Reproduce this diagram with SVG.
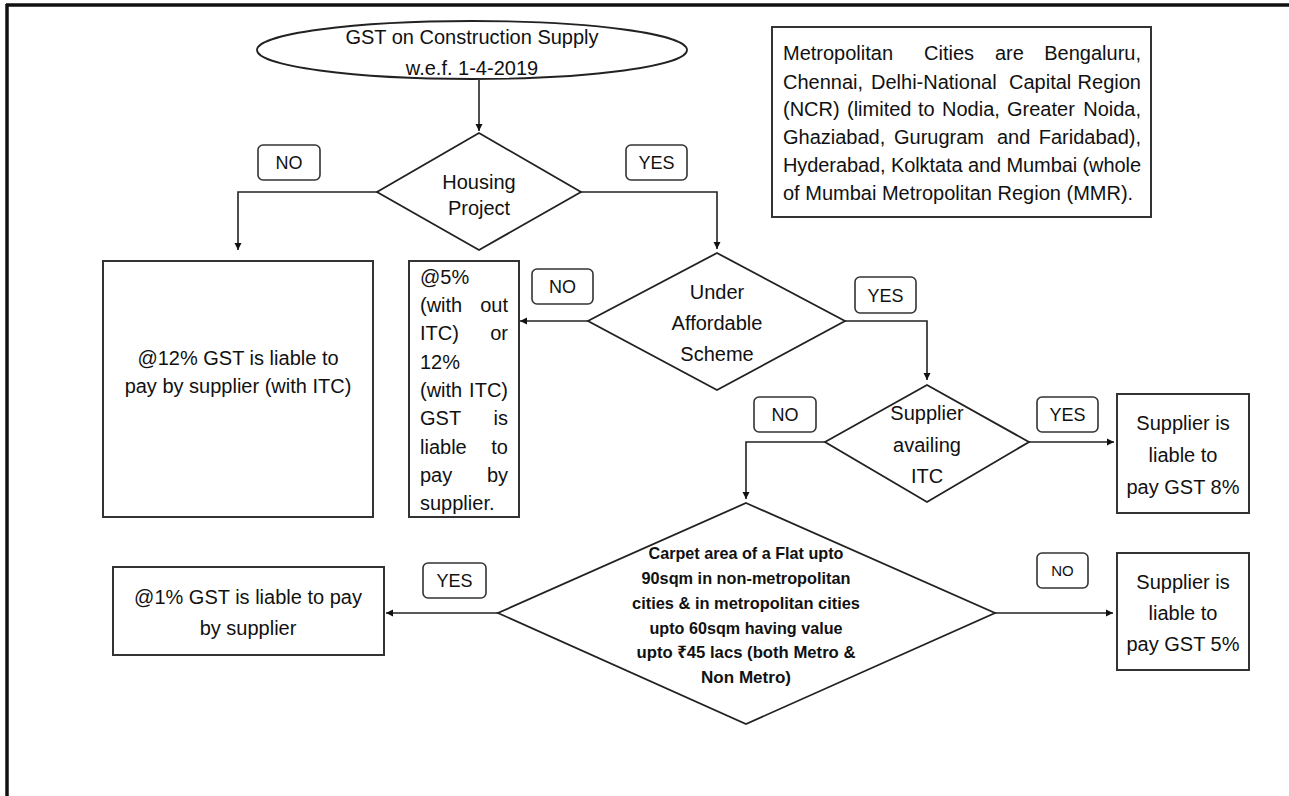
<svg xmlns="http://www.w3.org/2000/svg" width="1289" height="796" viewBox="0 0 1289 796">
  <style>
    .shape { fill: #ffffff; stroke: #222222; stroke-width: 1.8; }
    .box { fill: #ffffff; stroke: #333333; stroke-width: 2; }
    .tag { fill: #ffffff; stroke: #333333; stroke-width: 1.6; }
    .t { font-family: "Liberation Sans", Arial, "Noto Sans", sans-serif; font-size: 20px; fill: #111111; }
    .c { text-anchor: middle; }
    .e { text-anchor: end; }
    .lbl { font-family: "Liberation Sans", Arial, sans-serif; font-size: 18px; fill: #111111; text-anchor: middle; }
    .small { font-size: 15px; }
    .bold { font-family: "Liberation Sans", Arial, "Noto Sans", "DejaVu Sans", sans-serif; font-size: 17px; font-weight: bold; fill: #111111; text-anchor: middle; }
    .wire { fill: none; stroke: #222222; stroke-width: 1.6; }
  </style>
  <defs>
    <marker id="arrow" markerWidth="8" markerHeight="8" refX="7" refY="4" orient="auto" markerUnits="userSpaceOnUse">
      <path d="M0,0.5 L7,4 L0,7.5 Z" fill="#111111"/>
    </marker>
  </defs>

  <rect width="1289" height="796" fill="#ffffff"/>

  <!-- page frame (top and left edges only) -->
  <g id="frame" stroke="#111111" stroke-width="3.5" fill="none">
    <line x1="6" y1="5" x2="1289" y2="5"/>
    <line x1="7" y1="4" x2="7" y2="796"/>
  </g>

  <!-- connectors -->
  <g id="connectors">
    <path class="wire" d="M479,80 L479,131" marker-end="url(#arrow)"/>
    <path class="wire" d="M377,192 L238,192 L238,250" marker-end="url(#arrow)"/>
    <path class="wire" d="M581,192 L717,192 L717,249" marker-end="url(#arrow)"/>
    <path class="wire" d="M588,321 L520,321" marker-end="url(#arrow)"/>
    <path class="wire" d="M845,321 L927,321 L927,380" marker-end="url(#arrow)"/>
    <path class="wire" d="M1029,442 L1114,442" marker-end="url(#arrow)"/>
    <path class="wire" d="M825,442 L746,442 L746,499" marker-end="url(#arrow)"/>
    <path class="wire" d="M498,613 L386,613" marker-end="url(#arrow)"/>
    <path class="wire" d="M995,613 L1113,613" marker-end="url(#arrow)"/>
  </g>

  <!-- start -->
  <g id="start">
    <ellipse class="shape" cx="472" cy="50" rx="215" ry="29"/>
    <text class="t c" x="472" y="44" font-size="21">GST on Construction Supply</text>
    <text class="t c" x="472" y="75" font-size="21">w.e.f. 1-4-2019</text>
  </g>

  <!-- metropolitan note (justified lines placed word by word) -->
  <g id="metro-note">
    <rect class="box" x="772" y="27" width="379" height="190"/>
    <text class="t" y="60"><tspan x="783">Metropolitan</tspan><tspan x="924">Cities</tspan><tspan x="995">are</tspan><tspan x="1141" text-anchor="end">Bengaluru,</tspan></text>
    <text class="t" y="89"><tspan x="783">Chennai,</tspan><tspan x="871">Delhi-National</tspan><tspan x="1009">Capital</tspan><tspan x="1141" text-anchor="end">Region</tspan></text>
    <text class="t" y="116"><tspan x="783">(NCR)</tspan><tspan x="847">(limited</tspan><tspan x="918">to</tspan><tspan x="942">Nodia,</tspan><tspan x="1007">Greater</tspan><tspan x="1141" text-anchor="end">Noida,</tspan></text>
    <text class="t" y="144"><tspan x="783">Ghaziabad,</tspan><tspan x="894">Gurugram</tspan><tspan x="997">and</tspan><tspan x="1141" text-anchor="end">Faridabad),</tspan></text>
    <text class="t" x="783" y="172" textLength="358" lengthAdjust="spacing">Hyderabad, Kolktata and Mumbai (whole</text>
    <text class="t" x="783" y="200">of Mumbai Metropolitan Region (MMR).</text>
  </g>

  <!-- housing project decision -->
  <g id="housing">
    <polygon class="shape" points="479,133 581,192 479,250 377,192"/>
    <text class="t c" x="479" y="189">Housing</text>
    <text class="t c" x="479" y="215">Project</text>
  </g>

  <g id="label-housing-no">
    <rect class="tag" x="258" y="145" width="62" height="35" rx="5"/>
    <text class="lbl" x="289" y="169">NO</text>
  </g>
  <g id="label-housing-yes">
    <rect class="tag" x="626" y="145" width="61" height="35" rx="5"/>
    <text class="lbl" x="656.5" y="169">YES</text>
  </g>

  <!-- non-housing result -->
  <g id="non-housing">
    <rect class="box" x="103" y="261" width="270" height="256"/>
    <text class="t c" x="238" y="365">@12% GST is liable to</text>
    <text class="t c" x="238" y="393">pay by supplier (with ITC)</text>
  </g>

  <!-- affordable scheme decision -->
  <g id="affordable">
    <polygon class="shape" points="717,253 845,321 717,390 588,321"/>
    <text class="t c" x="717" y="299">Under</text>
    <text class="t c" x="717" y="330">Affordable</text>
    <text class="t c" x="717" y="361">Scheme</text>
  </g>

  <g id="label-affordable-no">
    <rect class="tag" x="532" y="269" width="61" height="35" rx="5"/>
    <text class="lbl" x="562.5" y="293">NO</text>
  </g>
  <g id="label-affordable-yes">
    <rect class="tag" x="855" y="277" width="61" height="36" rx="5"/>
    <text class="lbl" x="885.5" y="302">YES</text>
  </g>

  <!-- non-affordable result -->
  <g id="non-affordable">
    <rect class="box" x="409" y="261" width="110" height="256"/>
    <text class="t" y="284"><tspan x="420">@5%</tspan></text>
    <text class="t" y="312"><tspan x="420">(with</tspan><tspan x="508" text-anchor="end">out</tspan></text>
    <text class="t" y="340"><tspan x="420">ITC)</tspan><tspan x="508" text-anchor="end">or</tspan></text>
    <text class="t" y="369"><tspan x="420">12%</tspan></text>
    <text class="t" y="397"><tspan x="420">(with</tspan><tspan x="508" text-anchor="end">ITC)</tspan></text>
    <text class="t" y="425"><tspan x="420">GST</tspan><tspan x="508" text-anchor="end">is</tspan></text>
    <text class="t" y="454"><tspan x="420">liable</tspan><tspan x="508" text-anchor="end">to</tspan></text>
    <text class="t" y="482"><tspan x="420">pay</tspan><tspan x="508" text-anchor="end">by</tspan></text>
    <text class="t" y="510"><tspan x="420">supplier.</tspan></text>
  </g>

  <!-- ITC decision -->
  <g id="itc">
    <polygon class="shape" points="927,385 1029,442 927,502 825,442"/>
    <text class="t c" x="927" y="420">Supplier</text>
    <text class="t c" x="927" y="452">availing</text>
    <text class="t c" x="927" y="483">ITC</text>
  </g>

  <g id="label-itc-no">
    <rect class="tag" x="754" y="397" width="62" height="35" rx="5"/>
    <text class="lbl" x="785" y="421">NO</text>
  </g>
  <g id="label-itc-yes">
    <rect class="tag" x="1037" y="397" width="61" height="35" rx="5"/>
    <text class="lbl" x="1067.5" y="421">YES</text>
  </g>

  <g id="rate-8">
    <rect class="box" x="1117" y="394" width="132" height="119"/>
    <text class="t c" x="1183" y="430">Supplier is</text>
    <text class="t c" x="1183" y="462">liable to</text>
    <text class="t c" x="1183" y="494">pay GST 8%</text>
  </g>

  <!-- carpet area decision -->
  <g id="carpet">
    <polygon class="shape" points="746,503 995,613 746,724 498,613"/>
    <text class="bold" x="746" y="559" textLength="195" lengthAdjust="spacingAndGlyphs">Carpet area of a Flat upto</text>
    <text class="bold" x="746" y="584" textLength="209" lengthAdjust="spacingAndGlyphs">90sqm in non-metropolitan</text>
    <text class="bold" x="746" y="609" textLength="228" lengthAdjust="spacingAndGlyphs">cities &amp; in metropolitan cities</text>
    <text class="bold" x="746" y="634" textLength="193" lengthAdjust="spacingAndGlyphs">upto 60sqm having value</text>
    <text class="bold" x="746" y="658" textLength="219" lengthAdjust="spacingAndGlyphs">upto ₹45 lacs (both Metro &amp;</text>
    <text class="bold" x="746" y="683" textLength="90" lengthAdjust="spacingAndGlyphs">Non Metro)</text>
  </g>

  <g id="label-carpet-yes">
    <rect class="tag" x="423" y="563" width="63" height="35" rx="5"/>
    <text class="lbl" x="454.5" y="587">YES</text>
  </g>
  <g id="label-carpet-no">
    <rect class="tag" x="1037" y="553" width="51" height="35" rx="5"/>
    <text class="lbl small" x="1062.5" y="576">NO</text>
  </g>

  <g id="rate-1">
    <rect class="box" x="113" y="567" width="271" height="88"/>
    <text class="t c" x="248" y="604">@1% GST is liable to pay</text>
    <text class="t c" x="248" y="635">by supplier</text>
  </g>

  <g id="rate-5">
    <rect class="box" x="1117" y="553" width="132" height="117"/>
    <text class="t c" x="1183" y="589">Supplier is</text>
    <text class="t c" x="1183" y="620">liable to</text>
    <text class="t c" x="1183" y="651">pay GST 5%</text>
  </g>
</svg>
